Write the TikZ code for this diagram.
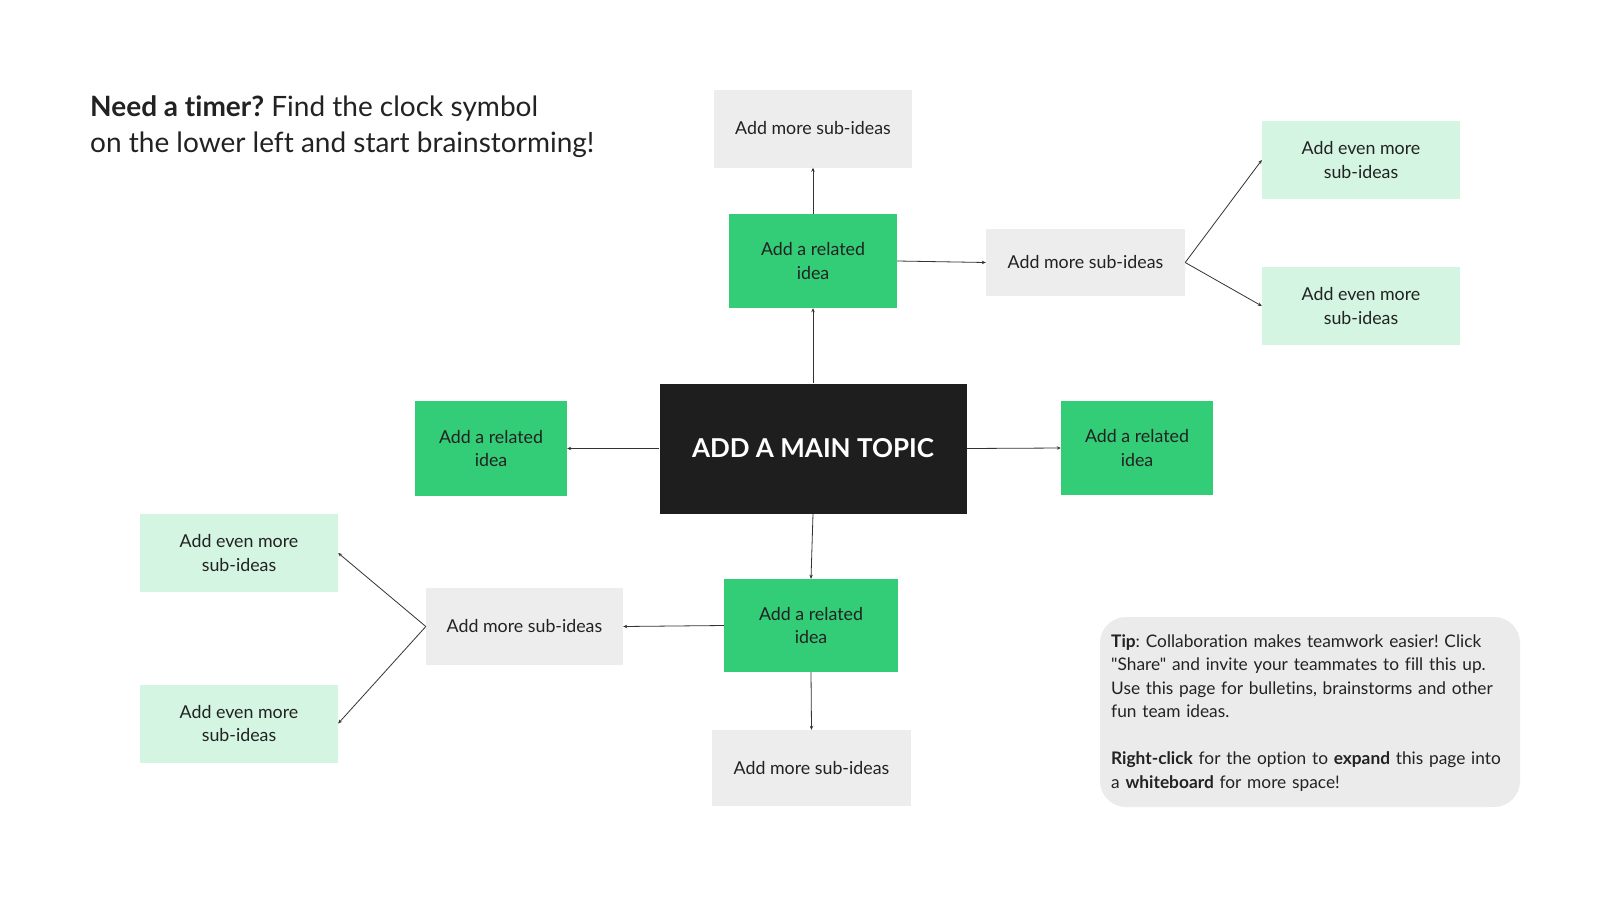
\documentclass[tikz,border=0pt]{standalone}
\usepackage{fontspec}
\setmainfont{Lato}[Ligatures={NoCommon,TeXOff}]
\usetikzlibrary{arrows.meta}
\definecolor{greenA}{HTML}{33CC77}
\definecolor{greenL}{HTML}{D4F5E2}
\definecolor{grayA}{HTML}{EDEDED}
\definecolor{tipgray}{HTML}{EBEBEB}
\definecolor{topicblack}{HTML}{1E1E1E}
\definecolor{linec}{HTML}{333333}
\definecolor{txt}{HTML}{222222}
\tikzset{
  boxbase/.style={inner sep=0pt, align=center, text=txt, font=\fontsize{17.8}{23.5}\selectfont},
  relbox/.style={boxbase, fill=greenA, minimum width=152pt, minimum height=94pt},
  subbox/.style={boxbase, fill=grayA, minimum width=198pt, minimum height=78pt},
  evenbox/.style={boxbase, fill=greenL, minimum width=198pt, minimum height=78pt},
  link/.style={draw=linec, line width=0.8pt, -{Stealth[length=4pt,width=3.5pt]}},
}
\frenchspacing
\begin{document}
\begin{tikzpicture}[x=1pt,y=-1pt]
\fill[white] (0,0) rectangle (1600,900);
\useasboundingbox (0,0) rectangle (1600,900);

% title
\node[anchor=base west, inner sep=0pt, text=txt, font=\fontsize{28}{36}\selectfont] (title1) at (90,116) {\textbf{Need a timer?} Find the clock symbol};
\node[anchor=base west, inner sep=0pt, text=txt, font=\fontsize{28}{36}\selectfont] (title2) at (90,152) {on the lower left and start brainstorming!};

% main topic
\node[fill=topicblack, text=white, minimum width=307pt, minimum height=130pt, inner sep=0pt, font=\fontsize{26}{30}\selectfont\bfseries] (main) at (813,448.5) {ADD A MAIN TOPIC};

% related ideas
\node[relbox, minimum width=168pt] (relT) at (813,261) {Add a related\\idea};
\node[relbox, minimum height=95pt] (relL) at (491,448.5) {Add a related\\idea};
\node[relbox] (relR) at (1137,448) {Add a related\\idea};
\node[relbox, minimum width=174pt, minimum height=93pt] (relB) at (811,625.5) {Add a related\\idea};

% sub ideas
\node[subbox] (subT) at (813,128.5) {Add more sub-ideas};
\node[subbox, minimum width=199pt, minimum height=67pt] (subR) at (1085.5,262.5) {Add more sub-ideas};
\node[subbox, minimum width=199pt, minimum height=76pt] (subB) at (811.5,768) {Add more sub-ideas};
\node[subbox, minimum width=197pt, minimum height=77pt] (subL) at (524.5,626.5) {Add more sub-ideas};

% even more
\node[evenbox] (evR1) at (1361,160) {Add even more\\sub-ideas};
\node[evenbox] (evR2) at (1361,306) {Add even more\\sub-ideas};
\node[evenbox] (evL1) at (239,553) {Add even more\\sub-ideas};
\node[evenbox] (evL2) at (239,723.5) {Add even more\\sub-ideas};

% connectors
\draw[link] (main.north) -- (relT.south);
\draw[link] (relT.north) -- (subT.south);
\draw[link] (relT.east) -- (subR.west);
\draw[link] (subR.east) -- (evR1.west);
\draw[link] (subR.east) -- (evR2.west);
\draw[link] (main.west) -- (relL.east);
\draw[link] (main.east) -- (relR.west);
\draw[link] (main.south) -- (relB.north);
\draw[link] (relB.south) -- (subB.north);
\draw[link] (relB.west) -- (subL.east);
\draw[link] (subL.west) -- (evL1.east);
\draw[link] (subL.west) -- (evL2.east);

% tip box
\fill[tipgray, rounded corners=26pt] (1100,617) rectangle (1520,807);
\node[anchor=north west, inner sep=0pt, text=txt, text width=405pt, align=left, font=\fontsize{17.3}{23.5}\selectfont] (tip) at (1111,634)
{\textbf{Tip}: Collaboration makes teamwork easier! Click\\
"Share" and invite your teammates to fill this up.\\
Use this page for bulletins, brainstorms and other\\
fun team ideas.\\[23.5pt]
\textbf{Right-click} for the option to \textbf{expand} this page into\\
a \textbf{whiteboard} for more space!};
\end{tikzpicture}
\end{document}
